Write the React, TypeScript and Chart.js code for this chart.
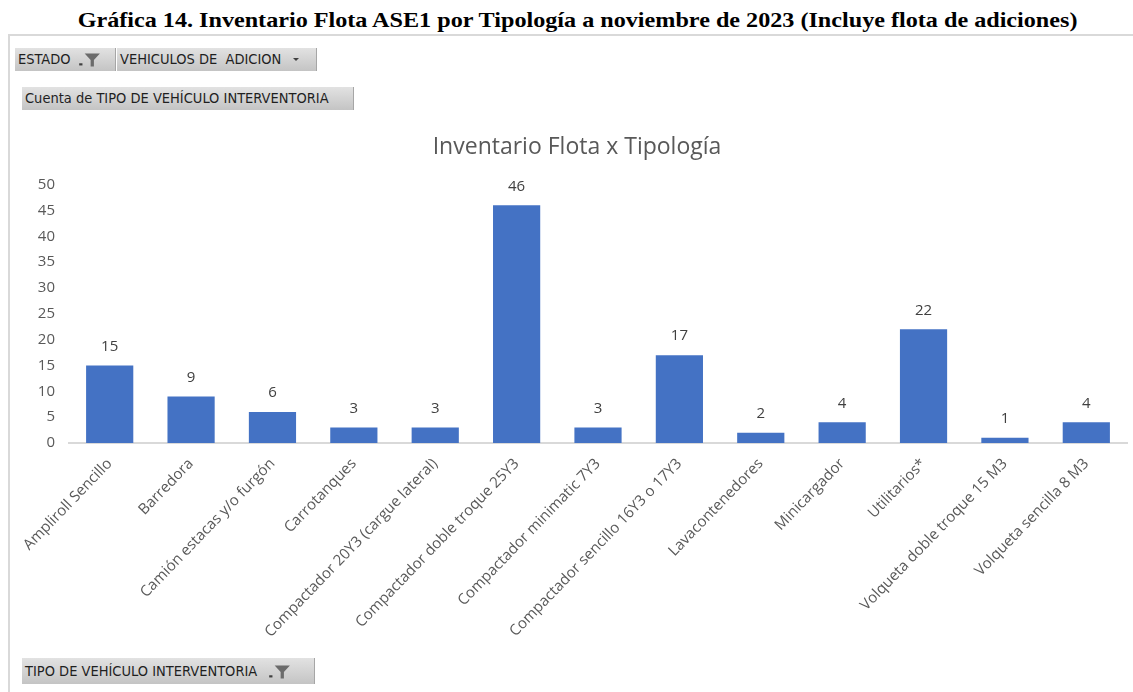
import React, { useEffect, useRef } from "react";
import { Chart, registerables } from "chart.js";

Chart.register(...registerables);

const categories: string[] = [
  "Ampliroll Sencillo",
  "Barredora",
  "Camión estacas y/o furgón",
  "Carrotanques",
  "Compactador 20Y3 (cargue lateral)",
  "Compactador doble troque 25Y3",
  "Compactador minimatic 7Y3",
  "Compactador sencillo 16Y3 o 17Y3",
  "Lavacontenedores",
  "Minicargador",
  "Utilitarios*",
  "Volqueta doble troque 15 M3",
  "Volqueta sencilla 8 M3",
];
const counts: number[] = [15, 9, 6, 3, 3, 46, 3, 17, 2, 4, 22, 1, 4];
const yTicks: number[] = [0, 5, 10, 15, 20, 25, 30, 35, 40, 45, 50];

const pageTitle =
  "Gráfica 14. Inventario Flota ASE1 por Tipología a noviembre de 2023 (Incluye flota de adiciones)";
const chartTitle = "Inventario Flota x Tipología";

const FONT = "'Open Sans', 'Noto Sans', sans-serif";
const BTN_FONT = "'DejaVu Sans Condensed', 'Liberation Sans', sans-serif";

const CANVAS_LEFT = 8;
const CANVAS_TOP = 118;
const CANVAS_W = 1138;
const CANVAS_H = 540;
const SIDE_PAD = 19;
const PLOT_LEFT = 61; // in canvas coords
const PLOT_BOTTOM = 325; // in canvas coords

const valueLabels = {
  id: "valueLabels",
  afterDatasetsDraw(chart: any) {
    const ctx = chart.ctx;
    const meta = chart.getDatasetMeta(0);
    ctx.save();
    ctx.font = `15px ${FONT}`;
    ctx.fillStyle = "#404040";
    ctx.textAlign = "center";
    ctx.textBaseline = "middle";
    meta.data.forEach((bar: any, i: number) => {
      ctx.fillText(String(chart.data.datasets[0].data[i]), bar.x, bar.y - 19);
    });
    ctx.restore();
  },
};

function Funnel() {
  return (
    <svg width="24" height="16" viewBox="0 0 22 14" style={{ verticalAlign: "middle" }}>
      <rect x="2" y="10" width="3" height="2" fill="#404040" />
      <path d="M7 1 L21 1 L15.5 7 L15.5 13 L12.5 13 L12.5 7 Z" fill="#6b6b6b" />
    </svg>
  );
}

function Arrow() {
  return (
    <svg width="10" height="8" viewBox="0 0 10 8" style={{ verticalAlign: "middle" }}>
      <path d="M2 2 L8 2 L5 5 Z" fill="#404040" />
    </svg>
  );
}

const btnStyle: React.CSSProperties = {
  position: "absolute",
  height: 23,
  background: "linear-gradient(#e2e2e2, #c4c4c4)",
  borderRight: "1px solid #a6a6a6",
  boxSizing: "border-box",
  fontFamily: BTN_FONT,
  fontSize: 14.5,
  color: "#1f1f1f",
  lineHeight: "23px",
  paddingLeft: 3,
  whiteSpace: "nowrap",
  overflow: "hidden",
};

export default function App() {
  const ref = useRef<HTMLCanvasElement | null>(null);

  useEffect(() => {
    if (!ref.current) return;
    const chart = new Chart(ref.current, {
      type: "bar",
      data: {
        labels: categories,
        datasets: [
          {
            data: counts,
            backgroundColor: "#4472c4",
            borderWidth: 0,
            categoryPercentage: 0.58,
            barPercentage: 1,
          },
        ],
      },
      options: {
        animation: false,
        responsive: false,
        maintainAspectRatio: false,
        layout: { padding: { left: SIDE_PAD, right: SIDE_PAD, top: 0, bottom: 0 } },
        plugins: {
          legend: { display: false },
          tooltip: { enabled: false },
          title: {
            display: true,
            text: chartTitle,
            color: "#595959",
            font: { family: FONT, size: 23, weight: "normal" },
            padding: { top: 16, bottom: 23 },
          },
        },
        scales: {
          x: {
            grid: { display: false, drawTicks: false },
            border: { display: true, color: "#d9d9d9", width: 2 },
            ticks: {
              color: "#595959",
              font: { family: FONT, size: 15 },
              minRotation: 46,
              maxRotation: 46,
              autoSkip: false,
              padding: 12,
            },
            afterFit(scale: any) {
              scale.height = CANVAS_H - PLOT_BOTTOM;
            },
          },
          y: {
            min: 0,
            max: 50,
            afterBuildTicks(scale: any) {
              scale.ticks = yTicks.map((v) => ({ value: v }));
            },
            grid: { display: false, drawTicks: false },
            border: { display: false },
            ticks: {
              color: "#595959",
              font: { family: FONT, size: 15 },
              padding: 14,
            },
            afterFit(scale: any) {
              scale.width = PLOT_LEFT - SIDE_PAD;
            },
          },
        },
      },
      plugins: [valueLabels],
    });
    return () => chart.destroy();
  }, []);

  return (
    <div
      style={{
        position: "fixed",
        left: 0,
        top: 0,
        width: 1133,
        height: 692,
        background: "#fff",
        overflow: "hidden",
      }}
    >
      <div
        style={{
          position: "absolute",
          left: 11,
          top: 8,
          width: 1133,
          textAlign: "center",
          fontFamily: "'Liberation Serif', 'DejaVu Serif', serif",
          fontWeight: "bold",
          fontSize: 21,
          color: "#000",
          lineHeight: "24px",
          transform: "scaleX(1.15)",
          transformOrigin: "566px 0",
          whiteSpace: "nowrap",
        }}
      >
        {pageTitle}
      </div>
      <div style={{ position: "absolute", left: 8, top: 34, width: 1125, height: 2, background: "#d9d9d9" }} />
      <div style={{ position: "absolute", left: 8, top: 34, width: 2, height: 658, background: "#d9d9d9" }} />

      <div style={{ ...btnStyle, left: 15, top: 48, width: 101 }}>
        ESTADO <span style={{ marginLeft: 2 }}><Funnel /></span>
      </div>
      <div style={{ ...btnStyle, left: 117, top: 48, width: 200 }}>
        VEHICULOS DE&nbsp; ADICION <span style={{ marginLeft: 6 }}><Arrow /></span>
      </div>
      <div style={{ ...btnStyle, left: 22, top: 87, width: 332 }}>
        Cuenta de TIPO DE VEHÍCULO INTERVENTORIA
      </div>
      <div style={{ ...btnStyle, left: 22, top: 658, width: 293, height: 26, lineHeight: "26px" }}>
        TIPO DE VEHÍCULO INTERVENTORIA <span style={{ marginLeft: 6 }}><Funnel /></span>
      </div>

      <canvas
        ref={ref}
        width={CANVAS_W}
        height={CANVAS_H}
        style={{ position: "absolute", left: CANVAS_LEFT, top: CANVAS_TOP, width: CANVAS_W, height: CANVAS_H }}
      />
    </div>
  );
}
